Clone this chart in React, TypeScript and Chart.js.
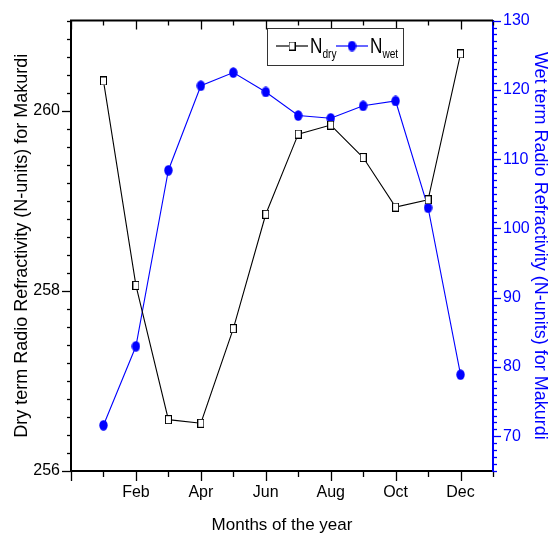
import React, { useEffect, useRef } from "react";
import { Chart, registerables } from "chart.js";

Chart.register(...registerables);

// ---- data ----
const months: number[] = [1, 2, 3, 4, 5, 6, 7, 8, 9, 10, 11, 12];
const nDry: number[] = [260.33, 258.06, 256.57, 256.53, 257.58, 258.85, 259.74, 259.84, 259.48, 258.93, 259.01, 260.63];
const nWet: number[] = [71.6, 83.0, 108.4, 120.6, 122.5, 119.7, 116.3, 115.9, 117.7, 118.4, 103.0, 78.9];

const monthTickValues: number[] = [2, 4, 6, 8, 10, 12];
const monthTickLabels: string[] = ["Feb", "Apr", "Jun", "Aug", "Oct", "Dec"];
const dryTickValues: number[] = [256, 258, 260];
const wetTickValues: number[] = [70, 80, 90, 100, 110, 120, 130];

const xTitle = "Months of the year";
const dryTitle = "Dry term Radio Refractivity (N-units) for Makurdi";
const wetTitle = "Wet term Radio Refractivity (N-units) for Makurdi";

const BLUE = "#0000ff";
const NARROW = "'Liberation Sans Narrow', 'Arial Narrow', 'Liberation Sans', Arial, sans-serif";
const REG = "'Liberation Sans', Arial, sans-serif";

function makeSquare(): HTMLCanvasElement {
  const c = document.createElement("canvas");
  c.width = 7;
  c.height = 9;
  const g = c.getContext("2d")!;
  g.fillStyle = "#ffffff";
  g.fillRect(0, 0, 7, 9);
  g.strokeStyle = "#000000";
  g.lineWidth = 1;
  g.strokeRect(0.5, 0.5, 6, 8);
  return c;
}

function makeDot(): HTMLCanvasElement {
  const c = document.createElement("canvas");
  c.width = 9;
  c.height = 11;
  const g = c.getContext("2d")!;
  g.fillStyle = BLUE;
  g.beginPath();
  g.ellipse(4.5, 5.5, 4.2, 5.2, 0, 0, Math.PI * 2);
  g.fill();
  return c;
}

const axisTicksPlugin = {
  id: "axisTicks",
  afterDraw(chart: any) {
    const { ctx, chartArea } = chart;
    const xs = chart.scales.x;
    const yl = chart.scales.y;
    const yr = chart.scales.y2;
    ctx.save();
    ctx.strokeStyle = "#000";
    ctx.lineWidth = 2;
    ctx.beginPath();
    ctx.moveTo(chartArea.left - 1, chartArea.top);
    ctx.lineTo(chartArea.right, chartArea.top);
    ctx.stroke();

    ctx.lineWidth = 1.3;
    for (let m = xs.min; m <= xs.max; m++) {
      const px = Math.round(xs.getPixelForValue(m)) + 0.5;
      const major = m % 2 === 0;
      ctx.beginPath();
      ctx.moveTo(px, chartArea.bottom);
      ctx.lineTo(px, chartArea.bottom + (major ? 10 : 6));
      ctx.moveTo(px, chartArea.top);
      ctx.lineTo(px, chartArea.top + (major ? 9 : 5));
      ctx.stroke();
    }
    for (let k = 0; k <= 25; k++) {
      const v = yl.min + k * 0.2;
      const py = Math.round(yl.getPixelForValue(v)) + 0.5;
      const major = dryTickValues.some((t) => Math.abs(t - v) < 1e-6);
      ctx.beginPath();
      ctx.moveTo(chartArea.left, py);
      ctx.lineTo(chartArea.left - (major ? 9 : 4), py);
      ctx.stroke();
    }
    ctx.strokeStyle = BLUE;
    for (let v = yr.min; v <= yr.max; v++) {
      const py = Math.round(yr.getPixelForValue(v)) + 0.5;
      const major = wetTickValues.includes(v);
      ctx.beginPath();
      ctx.moveTo(chartArea.right, py);
      ctx.lineTo(chartArea.right + (major ? 8 : 4), py);
      ctx.stroke();
    }
    ctx.restore();
  },
};

function narrowText(ctx: CanvasRenderingContext2D, text: string, x: number, y: number, font: string, sx: number): number {
  ctx.save();
  ctx.font = font;
  ctx.translate(x, y);
  ctx.scale(sx, 1);
  ctx.fillText(text, 0, 0);
  const w = ctx.measureText(text).width * sx;
  ctx.restore();
  return w;
}

const legendPlugin = {
  id: "customLegend",
  afterDraw(chart: any) {
    const { ctx } = chart;
    const ds = chart.data.datasets;
    ctx.save();
    const bx = 267.5, by = 28.5, bw = 136, bh = 37;
    ctx.fillStyle = "#fff";
    ctx.fillRect(bx, by, bw, bh);
    ctx.strokeStyle = "#333";
    ctx.lineWidth = 1;
    ctx.strokeRect(bx, by, bw, bh);
    const ly = 46;
    const items = [
      { x: 276, main: "N", sub: "dry", ds: ds[0] },
      { x: 336, main: "N", sub: "wet", ds: ds[1] },
    ];
    for (const it of items) {
      ctx.strokeStyle = it.ds.borderColor;
      ctx.lineWidth = 1.2;
      ctx.beginPath();
      ctx.moveTo(it.x, ly);
      ctx.lineTo(it.x + 32, ly);
      ctx.stroke();
      const img = it.ds.pointStyle as HTMLCanvasElement;
      ctx.drawImage(img, it.x + 16 - img.width / 2, ly - img.height / 2);
      ctx.fillStyle = "#000";
      ctx.textBaseline = "alphabetic";
      ctx.textAlign = "left";
      const w = narrowText(ctx, it.main, it.x + 34, 53, `22px ${REG}`, 0.78);
      narrowText(ctx, it.sub, it.x + 34 + w, 58, `13px ${REG}`, 0.78);
    }
    ctx.restore();
  },
};

export default function App() {
  const ref = useRef<HTMLCanvasElement | null>(null);
  useEffect(() => {
    if (!ref.current) return;
    const square = makeSquare();
    const dot = makeDot();
    const chart = new Chart(ref.current, {
      type: "line",
      data: {
        datasets: [
          {
            label: "N_dry",
            data: months.map((m, i) => ({ x: m, y: nDry[i] })),
            yAxisID: "y",
            borderColor: "#000000",
            backgroundColor: "#ffffff",
            borderWidth: 1.1,
            pointStyle: square as any,
            pointRadius: 4,
            tension: 0,
          },
          {
            label: "N_wet",
            data: months.map((m, i) => ({ x: m, y: nWet[i] })),
            yAxisID: "y2",
            borderColor: BLUE,
            backgroundColor: BLUE,
            borderWidth: 1.1,
            pointStyle: dot as any,
            pointRadius: 4,
            tension: 0,
          },
        ],
      },
      options: {
        animation: false,
        responsive: false,
        layout: { padding: { top: 19, left: 0, right: 0, bottom: 0 } },
        plugins: { legend: { display: false }, tooltip: { enabled: false } },
        scales: {
          x: {
            type: "linear",
            position: "bottom",
            min: 0,
            max: 13,
            afterBuildTicks: (s: any) => {
              s.ticks = monthTickValues.map((v) => ({ value: v }));
            },
            afterFit: (s: any) => {
              s.height = 67;
            },
            ticks: {
              autoSkip: false,
              maxRotation: 0,
              padding: 12,
              color: "#000",
              font: { family: NARROW, size: 16 },
              callback: (v: any) => {
                const i = monthTickValues.indexOf(Number(v));
                return i >= 0 ? monthTickLabels[i] : "";
              },
            },
            grid: { display: true, drawOnChartArea: false, drawTicks: false },
            border: { display: true, color: "#000", width: 2 },
            title: {
              display: true,
              text: xTitle,
              color: "#000",
              font: { family: NARROW, size: 17 },
              padding: { top: 0, bottom: 2 },
            },
          },
          y: {
            type: "linear",
            position: "left",
            min: 256,
            max: 261,
            afterBuildTicks: (s: any) => {
              s.ticks = dryTickValues.map((v) => ({ value: v }));
            },
            afterFit: (s: any) => {
              s.width = 71;
            },
            ticks: {
              padding: 11,
              color: "#000",
              font: { family: NARROW, size: 16 },
              callback: (v: any) => String(v),
            },
            grid: { display: true, drawOnChartArea: false, drawTicks: false },
            border: { display: true, color: "#000", width: 2 },
            title: {
              display: true,
              text: dryTitle,
              color: "#000",
              font: { family: REG, size: 18 },
              padding: { top: 11, bottom: 0 },
            },
          },
          y2: {
            type: "linear",
            position: "right",
            min: 65,
            max: 130,
            afterBuildTicks: (s: any) => {
              s.ticks = wetTickValues.map((v) => ({ value: v }));
            },
            afterFit: (s: any) => {
              s.width = 60;
            },
            ticks: {
              padding: 10,
              color: BLUE,
              font: { family: NARROW, size: 16 },
              callback: (v: any) => String(v),
            },
            grid: { display: true, drawOnChartArea: false, drawTicks: false },
            border: { display: true, color: BLUE, width: 2 },
            title: {
              display: true,
              text: wetTitle,
              color: BLUE,
              font: { family: REG, size: 18 },
              padding: { top: 2, bottom: 0 },
            },
          },
        },
      },
      plugins: [axisTicksPlugin, legendPlugin],
    } as any);
    return () => chart.destroy();
  }, []);
  return (
    <div style={{ position: "absolute", left: 0, top: 0, width: 553, height: 538, background: "#fff" }}>
      <canvas ref={ref} width={553} height={538} style={{ display: "block" }} />
    </div>
  );
}
